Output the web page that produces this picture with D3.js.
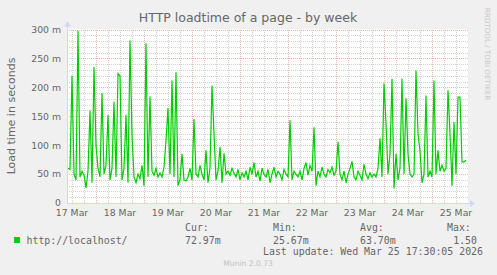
<!DOCTYPE html>
<html>
<head>
<meta charset="utf-8">
<script src="https://cdn.jsdelivr.net/npm/d3@7"></script>
<style>
  html, body { margin: 0; padding: 0; background: #f0f0f0; }
  svg { display: block; }
</style>
</head>
<body>
<div id="chart"></div>
<script>
// hourly load time samples (ms), starting 17 Mar 09:30
const loadTimes = [
  60, 58, 220, 50, 40, 298, 45, 55, 48, 26,
  55, 160, 35, 235, 100, 60, 45, 190, 50, 65,
  152, 40, 60, 175, 45, 224, 220, 40, 60, 152,
  35, 281, 117, 45, 35, 50, 42, 65, 30, 276,
  45, 184, 55, 48, 60, 45, 52, 45, 62, 108,
  164, 50, 212, 45, 226, 30, 40, 85, 40, 38,
  45, 60, 40, 145, 50, 45, 65, 50, 40, 91,
  35, 60, 203, 120, 40, 55, 97, 35, 86, 50,
  55, 48, 60, 52, 45, 58, 40, 52, 45, 55,
  40, 62, 50, 70, 45, 55, 38, 60, 50, 45,
  58, 35, 50, 62, 45, 55, 50, 40, 58, 50,
  45, 143, 40, 55, 50, 45, 55, 40, 60, 70,
  48, 65, 55, 131, 30, 55, 45, 62, 50, 45,
  58, 52, 62, 48, 55, 106, 50, 40, 55, 35,
  50, 60, 72, 45, 40, 55, 48, 40, 67, 50,
  42, 52, 45, 50, 45, 60, 112, 45, 207, 138,
  50, 85, 215, 25, 85, 40, 60, 215, 50, 181,
  85, 50, 45, 50, 229, 120, 90, 35, 50, 186,
  45, 55, 45, 212, 50, 91, 55, 65, 55, 60,
  195, 120, 30, 140, 50, 183, 183, 71, 71, 74
];
const dayLabels = ['17 Mar', '18 Mar', '19 Mar', '20 Mar', '21 Mar', '22 Mar', '23 Mar', '24 Mar', '25 Mar'];
const yTicks = [0, 50, 100, 150, 200, 250, 300];
const yTickLabels = ['0', '50 m', '100 m', '150 m', '200 m', '250 m', '300 m'];
const legendHeads = ['Cur:', 'Min:', 'Avg:', 'Max:'];
const legendValues = ['72.97m', '25.67m', '63.70m', '1.50'];

const width = 497;
const height = 275;
const plotLeft = 67, plotRight = 467, plotTop = 29.5, plotBottom = 203;
const startTime = Date.UTC(2026, 2, 17, 9, 30);
const endTime = Date.UTC(2026, 2, 25, 17, 30);

const svg = d3.select('#chart')
  .append('svg')
  .attr('width', width)
  .attr('height', height)
  .style('font-family', "'DejaVu Sans', sans-serif");

svg.append('rect')
  .attr('width', width)
  .attr('height', height)
  .attr('fill', '#f0f0f0');

const x = d3.scaleUtc().domain([startTime, endTime]).range([plotLeft, plotRight]);
const y = d3.scaleLinear().domain([0, 300]).range([plotBottom, plotTop]);

// canvas
svg.append('rect')
  .attr('x', plotLeft)
  .attr('y', plotTop)
  .attr('width', plotRight - plotLeft + 1)
  .attr('height', plotBottom - plotTop)
  .attr('fill', '#ffffff');

const grid = svg.append('g').attr('shape-rendering', 'crispEdges');
const minorColor = 'rgba(140,140,140,0.4)';
const majorColor = 'rgba(200,70,70,0.4)';

// minor grid, every 10 m and 6 hours
grid.selectAll('.hminor')
  .data(d3.range(10, 301, 10).filter((v) => v % 50 !== 0))
  .enter()
  .append('line')
  .attr('x1', plotLeft)
  .attr('x2', plotRight + 1)
  .attr('y1', (d) => Math.round(y(d)) + 0.5)
  .attr('y2', (d) => Math.round(y(d)) + 0.5)
  .attr('stroke', minorColor)
  .attr('stroke-dasharray', '1,1');

grid.selectAll('.vminor')
  .data(d3.utcHour.every(6).range(new Date(startTime), new Date(endTime)).filter((d) => d.getUTCHours() !== 0))
  .enter()
  .append('line')
  .attr('x1', (d) => Math.round(x(d)) + 0.5)
  .attr('x2', (d) => Math.round(x(d)) + 0.5)
  .attr('y1', plotTop)
  .attr('y2', plotBottom)
  .attr('stroke', minorColor)
  .attr('stroke-dasharray', '1,1');

// major grid
grid.selectAll('.hmajor')
  .data(yTicks.slice(1))
  .enter()
  .append('line')
  .attr('x1', plotLeft)
  .attr('x2', plotRight + 1)
  .attr('y1', (d) => Math.round(y(d)) + 0.5)
  .attr('y2', (d) => Math.round(y(d)) + 0.5)
  .attr('stroke', majorColor)
  .attr('stroke-dasharray', '1,1');

grid.selectAll('.vmajor')
  .data(d3.utcDay.range(new Date(startTime), new Date(endTime)))
  .enter()
  .append('line')
  .attr('x1', (d) => Math.round(x(d)) + 0.5)
  .attr('x2', (d) => Math.round(x(d)) + 0.5)
  .attr('y1', plotTop)
  .attr('y2', plotBottom)
  .attr('stroke', majorColor)
  .attr('stroke-dasharray', '1,1');

// data line
const line = d3.line()
  .x((d, i) => x(startTime + (i + 0.5) * 3600 * 1000))
  .y((d) => y(d));

svg.append('path')
  .datum(loadTimes)
  .attr('fill', 'none')
  .attr('stroke', '#00cc00')
  .attr('stroke-width', 1.2)
  .attr('stroke-linejoin', 'miter')
  .attr('d', line);

// axes with arrows
const axisColor = '#cfd6f8';
svg.append('line')
  .attr('x1', plotLeft + 0.5).attr('x2', plotLeft + 0.5)
  .attr('y1', plotBottom + 0.5).attr('y2', plotTop - 6)
  .attr('stroke', axisColor);
svg.append('path')
  .attr('d', `M${plotLeft - 3},${plotTop - 3}L${plotLeft + 0.5},${plotTop - 8}L${plotLeft + 4},${plotTop - 3}Z`)
  .attr('fill', axisColor);
svg.append('line')
  .attr('x1', plotLeft).attr('x2', plotRight + 4)
  .attr('y1', plotBottom + 0.5).attr('y2', plotBottom + 0.5)
  .attr('stroke', axisColor);
svg.append('path')
  .attr('d', `M${plotRight + 3},${plotBottom - 3}L${plotRight + 8},${plotBottom + 0.5}L${plotRight + 3},${plotBottom + 4}Z`)
  .attr('fill', axisColor);

// tick labels
svg.append('g')
  .selectAll('text')
  .data(yTicks)
  .enter()
  .append('text')
  .attr('x', 61)
  .attr('y', (d) => y(d) + 3.4)
  .attr('text-anchor', 'end')
  .attr('font-size', '9.3px')
  .attr('fill', '#666')
  .text((d, i) => yTickLabels[i]);

svg.append('g')
  .selectAll('text')
  .data(dayLabels)
  .enter()
  .append('text')
  .attr('x', (d, i) => x(Date.UTC(2026, 2, 17 + i, 12)))
  .attr('y', 216)
  .attr('text-anchor', 'middle')
  .attr('font-size', '9.3px')
  .attr('fill', '#666')
  .text((d) => d);

// title and axis label
svg.append('text')
  .attr('x', 248)
  .attr('y', 22)
  .attr('text-anchor', 'middle')
  .attr('font-size', '12.5px')
  .attr('fill', '#666')
  .text('HTTP loadtime of a page - by week');

svg.append('text')
  .attr('transform', 'translate(15,116) rotate(-90)')
  .attr('text-anchor', 'middle')
  .attr('font-size', '11px')
  .attr('fill', '#666')
  .text('Load time in seconds');

svg.append('text')
  .attr('transform', 'translate(485,54) rotate(90)')
  .attr('text-anchor', 'middle')
  .attr('font-size', '7.2px')
  .attr('fill', '#c8c8c8')
  .text('RRDTOOL / TOBI OETIKER');

// legend
const mono = "'DejaVu Sans Mono', monospace";
svg.append('rect')
  .attr('x', 14).attr('y', 237)
  .attr('width', 6).attr('height', 6)
  .attr('fill', '#00cc00');

svg.append('text')
  .attr('x', 26.5).attr('y', 243.5)
  .attr('font-family', mono)
  .attr('font-size', '9.9px')
  .attr('fill', '#666')
  .text('http://localhost/');

const colX = [185, 273, 360, 447];
svg.append('g')
  .selectAll('text')
  .data(legendHeads)
  .enter()
  .append('text')
  .attr('x', (d, i) => colX[i])
  .attr('y', 231)
  .attr('font-family', mono)
  .attr('font-size', '9.9px')
  .attr('fill', '#666')
  .text((d) => d);

svg.append('g')
  .selectAll('text')
  .data(legendValues)
  .enter()
  .append('text')
  .attr('x', (d, i) => (i === 3 ? 477 : colX[i]))
  .attr('y', 243.5)
  .attr('text-anchor', (d, i) => (i === 3 ? 'end' : 'start'))
  .attr('font-family', mono)
  .attr('font-size', '9.9px')
  .attr('fill', '#666')
  .text((d) => d);

svg.append('text')
  .attr('x', 483).attr('y', 255)
  .attr('text-anchor', 'end')
  .attr('font-family', mono)
  .attr('font-size', '9.9px')
  .attr('fill', '#666')
  .text('Last update: Wed Mar 25 17:30:05 2026');

svg.append('text')
  .attr('x', 248).attr('y', 266)
  .attr('text-anchor', 'middle')
  .attr('font-size', '7.6px')
  .attr('fill', '#c0c0c0')
  .text('Munin 2.0.73');
</script>
</body>
</html>
